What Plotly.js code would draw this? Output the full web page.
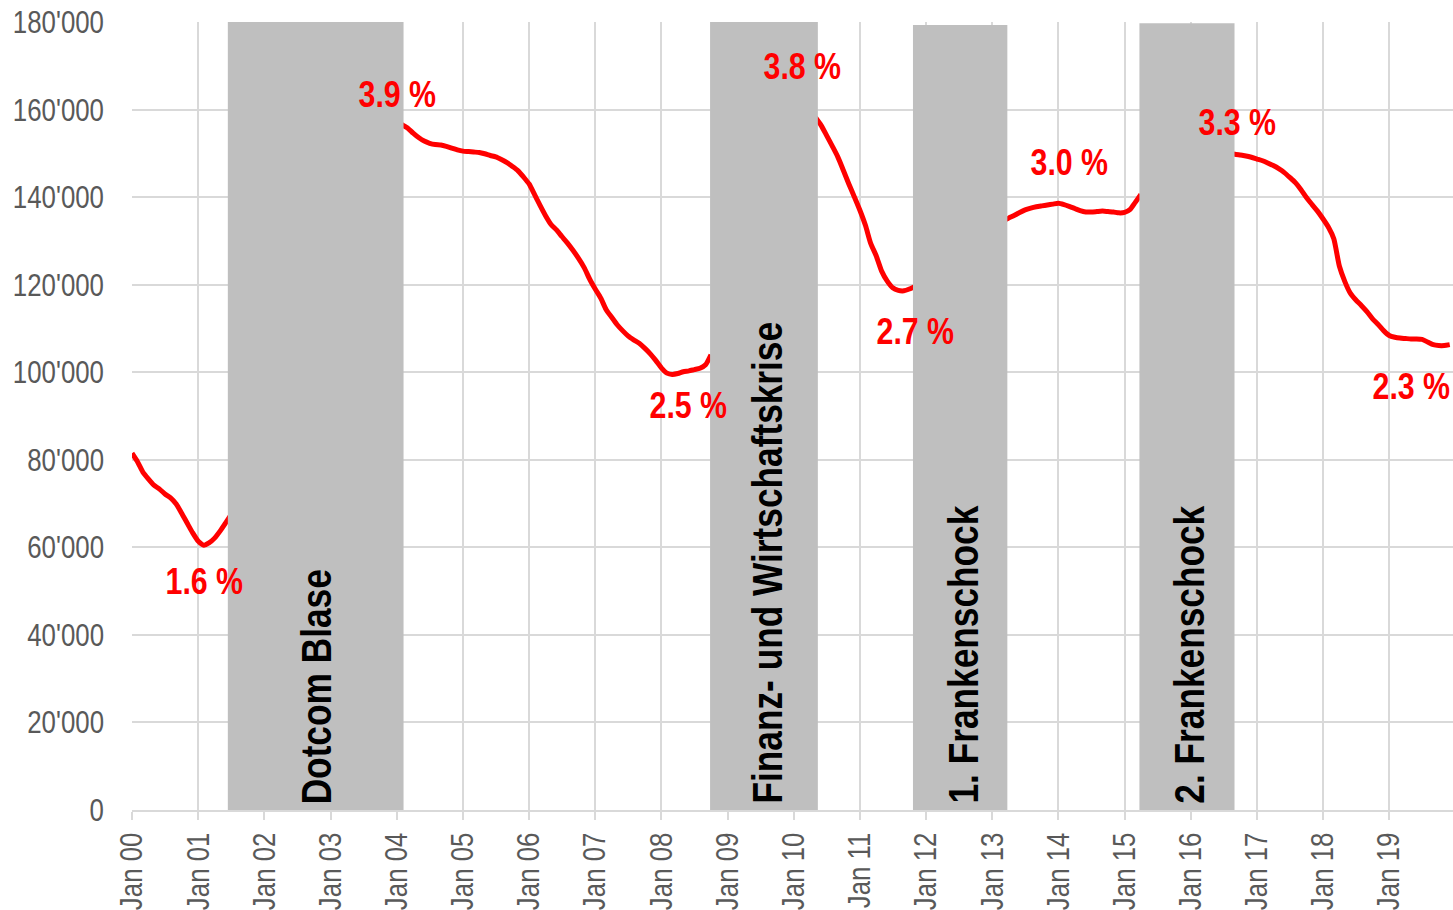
<!DOCTYPE html>
<html>
<head>
<meta charset="utf-8">
<script src="https://cdn.plot.ly/plotly-3.0.1.min.js"></script>
<style>
html,body{margin:0;padding:0;background:#fff;}
#chart{width:1453px;height:910px;}
</style>
</head>
<body>
<div id="chart"></div>
<script>
// Monthly series (Jan 2000 .. Dec 2019); gaps where hidden by the crisis bands
const seg2000 = ['2000-01',81.5,'2000-02',79.5,'2000-03',77.2,'2000-04',75.6,'2000-05',74.2,'2000-06',73.3,'2000-07',72.2,'2000-08',71.3,'2000-09',69.9,'2000-10',67.8,'2000-11',65.5,'2000-12',63.3,'2001-01',61.4,'2001-02',60.5,'2001-03',61.0,'2001-04',62.1,'2001-05',63.7,'2001-06',65.6,'2001-07',67.5];
const seg2004 = ['2004-01',157.5,'2004-02',156.5,'2004-03',155.8,'2004-04',154.6,'2004-05',153.6,'2004-06',152.8,'2004-07',152.3,'2004-08',152.0,'2004-09',151.9,'2004-10',151.6,'2004-11',151.2,'2004-12',150.8,
'2005-01',150.5,'2005-02',150.4,'2005-03',150.3,'2005-04',150.2,'2005-05',149.9,'2005-06',149.5,'2005-07',149.2,'2005-08',148.6,'2005-09',147.9,'2005-10',147.0,'2005-11',146.0,'2005-12',144.6,
'2006-01',143.0,'2006-02',140.5,'2006-03',138.2,'2006-04',135.8,'2006-05',133.8,'2006-06',132.5,'2006-07',131.0,'2006-08',129.5,'2006-09',127.8,'2006-10',126.0,'2006-11',123.9,'2006-12',121.3,
'2007-01',119.0,'2007-02',116.9,'2007-03',114.4,'2007-04',112.6,'2007-05',110.9,'2007-06',109.5,'2007-07',108.3,'2007-08',107.4,'2007-09',106.6,'2007-10',105.5,'2007-11',104.2,'2007-12',102.7,
'2008-01',101.0,'2008-02',99.8,'2008-03',99.5,'2008-04',99.7,'2008-05',100.1,'2008-06',100.3,'2008-07',100.6,'2008-08',100.9,'2008-09',101.7,'2008-10',104.0];
const seg2010 = ['2010-05',158.2,'2010-06',156.4,'2010-07',154.1,'2010-08',151.7,'2010-09',149.2,'2010-10',146.2,'2010-11',143.0,'2010-12',140.1,
'2011-01',137.0,'2011-02',133.5,'2011-03',129.5,'2011-04',126.6,'2011-05',123.1,'2011-06',120.8,'2011-07',119.3,'2011-08',118.7,'2011-09',118.6,'2011-10',119.0,'2011-11',119.6];
const seg2013 = ['2013-03',134.5,'2013-04',135.2,'2013-05',135.8,'2013-06',136.5,'2013-07',137.1,'2013-08',137.5,'2013-09',137.8,'2013-10',138.0,'2013-11',138.2,'2013-12',138.4,
'2014-01',138.6,'2014-02',138.3,'2014-03',137.9,'2014-04',137.4,'2014-05',136.9,'2014-06',136.6,'2014-07',136.6,'2014-08',136.7,'2014-09',136.8,'2014-10',136.7,'2014-11',136.6,'2014-12',136.4,
'2015-01',136.5,'2015-02',137.2,'2015-03',138.8,'2015-04',140.6];
const seg2016 = ['2016-08',149.9,'2016-09',149.8,'2016-10',149.6,'2016-11',149.4,'2016-12',149.1,
'2017-01',148.7,'2017-02',148.3,'2017-03',147.8,'2017-04',147.2,'2017-05',146.5,'2017-06',145.6,'2017-07',144.5,'2017-08',143.3,'2017-09',141.7,'2017-10',139.9,'2017-11',138.3,'2017-12',136.8,
'2018-01',135.0,'2018-02',133.0,'2018-03',130.5,'2018-04',124.2,'2018-05',120.7,'2018-06',118.0,'2018-07',116.5,'2018-08',115.2,'2018-09',113.8,'2018-10',112.2,'2018-11',110.9,'2018-12',109.5,
'2019-01',108.4,'2019-02',108.0,'2019-03',107.8,'2019-04',107.7,'2019-05',107.6,'2019-06',107.6,'2019-07',107.5,'2019-08',106.9,'2019-09',106.3,'2019-10',106.1,'2019-11',106.1,'2019-12',106.3];

// Crisis bands
const bandStarts = ['2001-06-13','2008-09-26','2011-10-21','2015-03-24'];
const bandEnds   = ['2004-02-08','2010-05-14','2013-03-25','2016-08-30'];
const bandTops   = [180000,180000,179300,179700];
const bandLabels = ['Dotcom Blase','Finanz- und Wirtschaftskrise','1. Frankenschock','2. Frankenschock'];
const bandLabelX = ['2002-10-12','2009-08-01','2012-07-18','2015-12-18'];

// Percentage labels
const pctText = ['1.6 %','3.9 %','2.5 %','3.8 %','2.7 %','3.0 %','3.3 %','2.3 %'];
const pctX = ['2001-02-02','2004-01-07','2008-05-28','2010-02-18','2011-11-06','2014-03-01','2016-09-16','2019-05-05'];
const pctY = [52100,163500,92300,169900,109400,147800,157100,96800];

// Axis ticks
const yTickVals = [0,20000,40000,60000,80000,100000,120000,140000,160000,180000];
const yTickText = ["0","20'000","40'000","60'000","80'000","100'000","120'000","140'000","160'000","180'000"];

const x = [], y = [];
[seg2000, seg2004, seg2010, seg2013, seg2016].forEach((seg, i) => {
  for (let k = 0; k < seg.length; k += 2) { x.push(seg[k] + '-01'); y.push(seg[k+1] * 1000); }
  if (i < 4) { x.push(seg[seg.length-2] + '-15'); y.push(null); }
});

const FONT = '"Liberation Sans", Arial, sans-serif';
const NARROW = 0.82; // Arial Narrow width relative to Arial / Liberation Sans

const shapes = bandStarts.map((s, i) => ({
  type: 'rect', xref: 'x', yref: 'y', x0: s, x1: bandEnds[i], y0: -800, y1: bandTops[i],
  fillcolor: '#bfbfbf', line: {width: 0}, layer: 'above'
}));

const annotations = [];
bandLabels.forEach((t, i) => annotations.push({
  text: t, x: bandLabelX[i], y: 0, xref: 'x', yref: 'y', xanchor: 'center', yanchor: 'bottom',
  yshift: 4, textangle: -90, showarrow: false,
  font: {family: FONT, size: 43, color: '#000000', weight: 'bold'}
}));
pctText.forEach((t, i) => annotations.push({
  text: t, x: pctX[i], y: pctY[i], xref: 'x', yref: 'y', xanchor: 'center', yanchor: 'middle',
  showarrow: false, font: {family: FONT, size: 37, color: '#ff0000', weight: 'bold'}
}));

const trace = {
  type: 'scatter', mode: 'lines', x: x, y: y, connectgaps: false,
  line: {color: '#ff0000', width: 5, shape: 'spline', smoothing: 0.6},
  hoverinfo: 'skip'
};

const layout = {
  width: 1453, height: 910,
  margin: {l: 132, r: 0, t: 22, b: 100, pad: 0},
  paper_bgcolor: '#ffffff', plot_bgcolor: '#ffffff',
  showlegend: false,
  font: {family: FONT, color: '#595959'},
  xaxis: {
    type: 'date', range: ['2000-01-01', '2019-12-19'],
    dtick: 'M12', tick0: '2000-01-01', tickformat: '%b %y', tickangle: -90,
    tickfont: {family: FONT, size: 31.5, color: '#595959'},
    showgrid: true, gridcolor: '#d9d9d9', gridwidth: 2,
    showline: true, linecolor: '#d9d9d9', linewidth: 2,
    ticks: 'outside', ticklen: 8, tickcolor: '#d9d9d9', tickwidth: 2,
    zeroline: false, fixedrange: true
  },
  yaxis: {
    range: [0, 180000], tickvals: yTickVals, ticktext: yTickText,
    tickfont: {family: FONT, size: 31.5, color: '#595959'},
    showgrid: true, gridcolor: '#d9d9d9', gridwidth: 2,
    showline: false, zeroline: false, ticks: '', ticklabelstandoff: 27,
    fixedrange: true
  },
  shapes: shapes,
  annotations: annotations
};

// Emulate the condensed (Arial Narrow) face of the original, keeping the text as real text
function condense() {
  document.querySelectorAll('#chart .xtick text, #chart .ytick text, #chart text.annotation-text').forEach(t => {
    if (t.getAttribute('textLength')) return;
    const len = t.getComputedTextLength();
    if (!(len > 0)) return;
    const isBand = bandLabels.indexOf(t.textContent) >= 0;
    if (isBand) {
      // keep the start (bottom end of the rotated label) where it was
      const nodes = [t].concat(Array.from(t.querySelectorAll('tspan')));
      nodes.forEach(n => {
        const xa = n.getAttribute('x');
        if (xa !== null) n.setAttribute('x', (parseFloat(xa) - len / 2).toFixed(2));
      });
      t.setAttribute('text-anchor', 'start');
      t.style.textAnchor = 'start';
    }
    t.setAttribute('textLength', (len * NARROW).toFixed(2));
    t.setAttribute('lengthAdjust', 'spacingAndGlyphs');
  });
}

Plotly.newPlot('chart', [trace], layout, {staticPlot: true, displayModeBar: false}).then(condense);
</script>
</body>
</html>
